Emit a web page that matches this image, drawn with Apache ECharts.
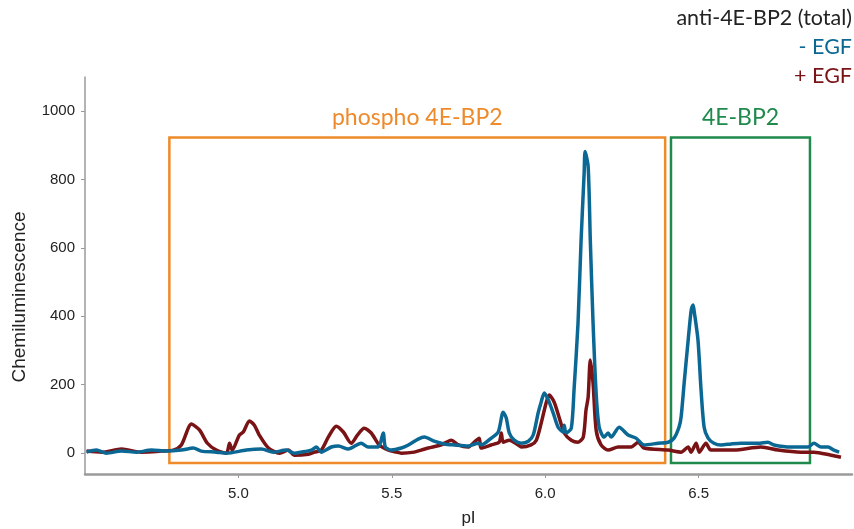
<!DOCTYPE html>
<html>
<head>
<meta charset="utf-8">
<script src="https://cdn.jsdelivr.net/npm/echarts@6/dist/echarts.min.js"></script>
<style>html,body{margin:0;padding:0;background:#fff}#c{width:854px;height:529px}</style>
</head>
<body>
<div id="c"></div>
<script>
// pI values and chemiluminescence for + EGF (red)
const plusEGF_pI = [4.505,4.554,4.619,4.684,4.749,4.788,4.814,4.847,4.873,4.899,4.928,4.961,4.971,4.980,5.003,5.016,5.036,5.052,5.068,5.098,5.134,5.163,5.182,5.228,5.248,5.270,5.293,5.319,5.342,5.368,5.388,5.410,5.433,5.459,5.489,5.515,5.531,5.573,5.596,5.619,5.661,5.694,5.717,5.749,5.765,5.785,5.791,5.824,5.850,5.857,5.863,5.883,5.912,5.922,5.954,5.971,5.987,6.003,6.013,6.029,6.045,6.062,6.085,6.107,6.124,6.133,6.140,6.147,6.156,6.166,6.182,6.205,6.238,6.280,6.303,6.322,6.401,6.443,6.466,6.475,6.492,6.502,6.524,6.540,6.616,6.703,6.759,6.833,6.876,6.932,6.964];
const plusEGF_val = [5,2,11,2,5,8,23,84,67,28,8,-1,28,8,52,61,93,81,52,14,-1,8,-7,-4,2,8,46,78,61,28,52,72,58,23,8,2,-1,2,8,14,23,37,23,17,28,43,14,23,31,58,31,37,23,17,23,37,87,146,169,149,105,58,37,31,46,125,163,272,204,67,23,8,17,17,31,14,8,2,17,2,28,2,28,8,8,17,8,2,2,-7,-13];

// pI values and chemiluminescence for - EGF (blue)
const minusEGF_pI = [4.505,4.537,4.570,4.619,4.668,4.717,4.765,4.814,4.853,4.879,4.928,4.961,5.026,5.075,5.114,5.156,5.182,5.205,5.238,5.254,5.270,5.303,5.326,5.358,5.400,5.423,5.456,5.472,5.479,5.498,5.531,5.554,5.586,5.606,5.638,5.671,5.704,5.749,5.782,5.792,5.824,5.847,5.863,5.873,5.883,5.899,5.922,5.945,5.961,5.977,5.987,5.997,6.010,6.026,6.042,6.059,6.062,6.068,6.085,6.094,6.107,6.117,6.127,6.130,6.140,6.147,6.156,6.166,6.176,6.192,6.205,6.215,6.241,6.270,6.296,6.313,6.322,6.368,6.401,6.420,6.436,6.443,6.453,6.466,6.476,6.482,6.485,6.498,6.508,6.518,6.531,6.550,6.573,6.606,6.638,6.694,6.726,6.746,6.801,6.857,6.876,6.899,6.922,6.941,6.958];
const minusEGF_val = [2,8,-1,5,2,8,5,8,14,5,2,-1,8,11,2,8,-1,2,8,17,2,17,20,11,28,17,17,58,17,8,14,23,40,46,34,26,23,20,28,23,43,61,119,102,58,37,28,34,52,117,149,175,155,117,75,61,81,58,72,184,380,623,820,882,838,623,380,175,75,46,58,46,75,52,43,28,23,28,31,43,75,105,205,330,418,433,418,330,184,75,43,28,23,26,28,28,31,23,17,17,28,17,17,8,2];

const xTicks = [5.0, 5.5, 6.0, 6.5];
const yTicks = [0, 200, 400, 600, 800, 1000];

// annotation boxes (data coordinates)
const phosphoBox = [4.775, 923, 6.391, -30];
const totalBox = [6.410, 923, 6.863, -30];

const BLUE = '#0b6894';
const RED = '#7a1315';
const ORANGE = '#ee8a2a';
const GREEN = '#1f8a4c';

const zip = (a, b) => a.map((v, i) => [v, b[i]]);

const chart = echarts.init(document.getElementById('c'));
chart.setOption({
  animation: false,
  grid: { left: 85, right: 2, top: 77, bottom: 55, containLabel: false, outerBoundsMode: 'none' },
  xAxis: {
    type: 'value', min: 4.5, max: 7.0,
    name: 'pI', nameLocation: 'middle', nameGap: 36,
    nameTextStyle: { fontFamily: 'Liberation Sans', fontSize: 17, color: '#222' },
    axisLine: { onZero: false, lineStyle: { color: '#9a9a9a', width: 2.5 } },
    axisTick: { show: true, length: 4, customValues: xTicks, lineStyle: { color: '#9a9a9a' } },
    axisLabel: { customValues: xTicks, formatter: v => v.toFixed(1), fontFamily: 'Liberation Sans', fontSize: 15, color: '#222', margin: 12 },
    splitLine: { show: false }
  },
  yAxis: {
    type: 'value', min: -62, max: 1100,
    axisLine: { show: true, onZero: false, lineStyle: { color: '#9a9a9a', width: 1.5 } },
    axisTick: { show: true, length: 4, customValues: yTicks, lineStyle: { color: '#9a9a9a' } },
    axisLabel: { customValues: yTicks, formatter: v => String(v), fontFamily: 'Liberation Sans', fontSize: 15, color: '#222', margin: 10 },
    splitLine: { show: false }
  },
  series: [
    {
      name: '+ EGF', type: 'line', data: zip(plusEGF_pI, plusEGF_val),
      showSymbol: false, smooth: 0.25,
      lineStyle: { color: RED, width: 3.5 }, itemStyle: { color: RED },
      markArea: {
        silent: true,
        itemStyle: { color: 'rgba(0,0,0,0)', borderColor: ORANGE, borderWidth: 2.5 },
        label: { show: true, position: 'top', distance: 7, color: ORANGE, fontFamily: 'Lato', fontSize: 23 },
        data: [[{ name: 'phospho 4E-BP2', xAxis: phosphoBox[0], yAxis: phosphoBox[1] }, { xAxis: phosphoBox[2], yAxis: phosphoBox[3] }]]
      }
    },
    {
      name: '- EGF', type: 'line', data: zip(minusEGF_pI, minusEGF_val),
      showSymbol: false, smooth: 0.25,
      lineStyle: { color: BLUE, width: 3.5 }, itemStyle: { color: BLUE },
      markArea: {
        silent: true,
        itemStyle: { color: 'rgba(0,0,0,0)', borderColor: GREEN, borderWidth: 2.5 },
        label: { show: true, position: 'top', distance: 7, color: GREEN, fontFamily: 'Lato', fontSize: 23 },
        data: [[{ name: '4E-BP2', xAxis: totalBox[0], yAxis: totalBox[1] }, { xAxis: totalBox[2], yAxis: totalBox[3] }]]
      }
    }
  ],
  graphic: [
    { type: 'text', x: 20, y: 297, rotation: Math.PI / 2, style: { text: 'Chemiluminescence', fill: '#222', font: '19px "Liberation Sans"', textAlign: 'center', textVerticalAlign: 'middle' } },
    { type: 'text', right: 2, top: 7, style: { text: 'anti-4E-BP2 (total)', fill: '#222', font: '21.5px Lato', textAlign: 'right' } },
    { type: 'text', right: 2, top: 36, style: { text: '- EGF', fill: BLUE, font: '21.5px Lato', textAlign: 'right' } },
    { type: 'text', right: 2, top: 65, style: { text: '+ EGF', fill: RED, font: '21.5px Lato', textAlign: 'right' } }
  ]
});
</script>
</body>
</html>
